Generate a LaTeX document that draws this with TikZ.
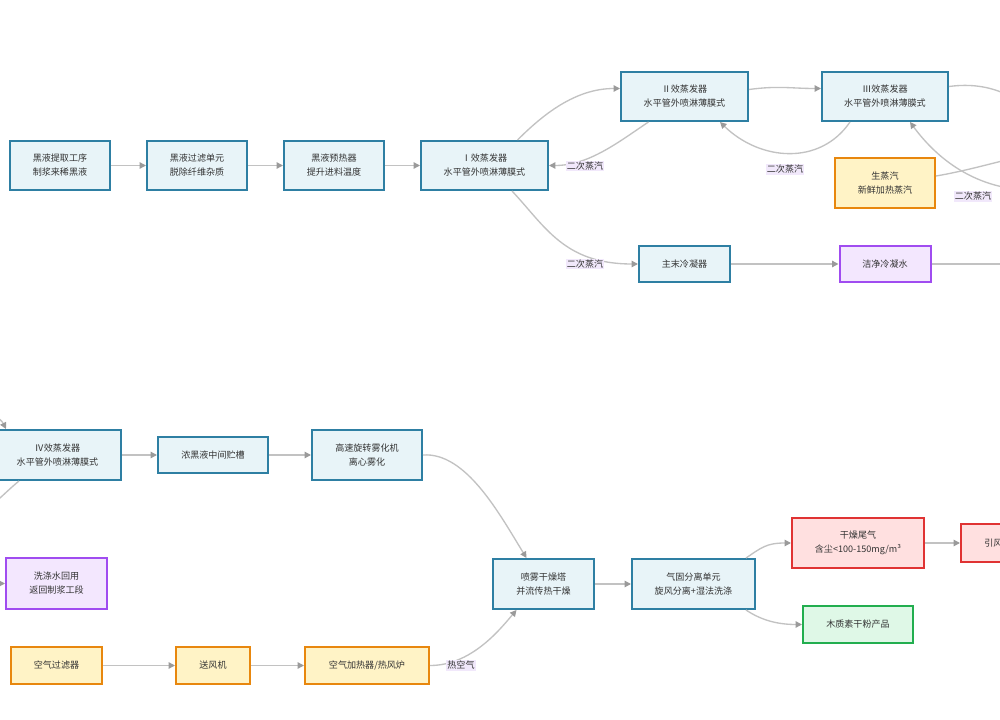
\documentclass[tikz,border=0pt]{standalone}
\usepackage{fontspec}
\setmainfont{Noto Sans CJK SC}
\usetikzlibrary{arrows.meta,calc}
\definecolor{bfill}{HTML}{E8F4F8}
\definecolor{bline}{HTML}{2E7FA3}
\definecolor{ofill}{HTML}{FFF3C6}
\definecolor{oline}{HTML}{E8870E}
\definecolor{pfill}{HTML}{F3E7FE}
\definecolor{pline}{HTML}{A04CF0}
\definecolor{rfill}{HTML}{FFE0E0}
\definecolor{rline}{HTML}{E03333}
\definecolor{gfill}{HTML}{DFF8E7}
\definecolor{gline}{HTML}{22AE4F}
\definecolor{lblbg}{HTML}{F1E8FB}
\definecolor{edgec}{HTML}{C2C2C2}
\definecolor{tipc}{HTML}{9A9A9A}
\definecolor{txt}{HTML}{333333}
\tikzset{
  sz/.style 2 args={minimum width=#1*0.75pt, minimum height=#2*0.75pt},
  box/.style={draw, rectangle, line width=1.5pt, inner sep=0pt, align=center, text=txt,
    font=\fontsize{6.8pt}{10.5pt}\selectfont},
  bluebox/.style={box, fill=bfill, draw=bline},
  orangebox/.style={box, fill=ofill, draw=oline},
  purplebox/.style={box, fill=pfill, draw=pline},
  redbox/.style={box, fill=rfill, draw=rline},
  greenbox/.style={box, fill=gfill, draw=gline},
  edge/.style={draw=edgec, line width=1pt, -{Triangle[length=4.8pt,width=4.8pt,color=tipc]}},
  plainedge/.style={draw=edgec, line width=1pt},
  lbl/.style={fill=lblbg, inner sep=0.8pt, text=txt, font=\fontsize{6.8pt}{8pt}\selectfont}
}
\begin{document}
\begin{tikzpicture}[x=0.75pt,y=-0.75pt]
\useasboundingbox (0,0) rectangle (1000,720);
\clip (0,0) rectangle (1000,720);
\fill[white] (0,0) rectangle (1000,720);
% nodes
\node[bluebox, sz={100}{49}] (A) at (60,165.5) {黑液提取工序\\制浆来稀黑液};
\node[bluebox, sz={100}{49}] (B) at (197,165.5) {黑液过滤单元\\脱除纤维杂质};
\node[bluebox, sz={100}{49}] (C) at (334,165.5) {黑液预热器\\提升进料温度};
\node[bluebox, sz={127}{49}] (D) at (484.5,165.5) {Ⅰ效蒸发器\\水平管外喷淋薄膜式};
\node[bluebox, sz={127}{49}] (E) at (684.5,96.5) {Ⅱ效蒸发器\\水平管外喷淋薄膜式};
\node[bluebox, sz={126}{49}] (F) at (885,96.5) {Ⅲ效蒸发器\\水平管外喷淋薄膜式};
\node[orangebox, sz={100}{50}] (G) at (885,183) {生蒸汽\\新鲜加热蒸汽};
\node[bluebox, sz={91}{36}] (H) at (684.5,264) {主末冷凝器};
\node[purplebox, sz={91}{36}] (I) at (885,264) {洁净冷凝水};
\node[bluebox, sz={127}{50}] (J) at (57.5,455) {Ⅳ效蒸发器\\水平管外喷淋薄膜式};
\node[bluebox, sz={110}{36}] (K) at (213,455) {浓黑液中间贮槽};
\node[bluebox, sz={110}{50}] (L) at (367,455) {高速旋转雾化机\\离心雾化};
\node[bluebox, sz={101}{50}] (M) at (543.5,584) {喷雾干燥塔\\并流传热干燥};
\node[bluebox, sz={123}{50}] (N) at (693.5,584) {气固分离单元\\旋风分离+湿法洗涤};
\node[redbox, sz={132}{50}] (O) at (858,543) {干燥尾气\\含尘<100-150mg/m³};
\node[redbox, sz={74}{38}] (P) at (998,543) {引风机};
\node[greenbox, sz={110}{37}] (Q) at (858,624.5) {木质素干粉产品};
\node[purplebox, sz={101}{51}] (R) at (56.5,583.5) {洗涤水回用\\返回制浆工段};
\node[orangebox, sz={91}{37}] (S) at (56.5,665.5) {空气过滤器};
\node[orangebox, sz={74}{37}] (T) at (213,665.5) {送风机};
\node[orangebox, sz={124}{37}] (U) at (367,665.5) {空气加热器/热风炉};
% free ends
\coordinate (fout) at (1045,120);
\coordinate (vin) at (1045,190);
\coordinate (gout) at (1045,150);
\coordinate (iout) at (1045,264);
\coordinate (jin) at (-40,405);
\coordinate (jout) at (-40,525);
\coordinate (rin) at (-30,583.5);
% edges
\draw[edge] (A.east) -- (B.west);
\draw[edge] (B.east) -- (C.west);
\draw[edge] (C.east) -- (D.west);
\draw[edge] ($(D.north)+(33,0)$) .. controls +(25,-25) and +(-45,0) .. ($(E.west)+(0,-8)$);
\draw[edge] ($(E.south)+(-36,0)$) .. controls +(-30,20) and +(40,0) .. (D.east);
\draw[edge] ($(E.east)+(0,-7)$) .. controls +(30,-4) and +(-30,0) .. ($(F.west)+(0,-8)$);
\draw[edge] ($(F.south)+(-35,0)$) .. controls +(-30,44) and +(40,39) .. ($(E.south)+(35.5,0)$);
\draw[plainedge] ($(F.east)+(0,-10)$) .. controls +(45,-6) and +(-25,-20) .. (fout);
\draw[edge] (vin) .. controls (980,194) and (938,160) .. ($(F.south)+(25,0)$);
\draw[plainedge] ($(G.east)+(0,-7)$) .. controls +(30,-5) and +(-40,10) .. (gout);
\draw[edge] ($(D.south)+(27.5,0)$) .. controls +(33,35) and +(-74,0) .. (H.west);
\draw[edge] (H.east) -- (I.west);
\draw[plainedge] (I.east) -- (iout);
\draw[edge] (jin) .. controls +(30,5) and +(-5,-10) .. ($(J.north west)+(13,0)$);
\draw[plainedge] ($(J.south west)+(26,0)$) .. controls +(-15,12) and +(20,-5) .. (jout);
\draw[edge] (J.east) -- (K.west);
\draw[edge] (K.east) -- (L.west);
\draw[edge] (L.east) .. controls +(43,-3) and +(-27,-44) .. ($(M.north)+(-17,0)$);
\draw[edge] (U.east) .. controls +(41,0) and +(-17,20) .. ($(M.south)+(-27,0)$);
\draw[edge] (S.east) -- (T.west);
\draw[edge] (T.east) -- (U.west);
\draw[edge] (M.east) -- (N.west);
\draw[edge] ($(N.north east)+(-10,0)$) .. controls +(15,-10) and +(-25,0) .. (O.west);
\draw[edge] ($(N.south east)+(-10,0)$) .. controls +(15,10) and +(-25,0) .. (Q.west);
\draw[edge] (O.east) -- (P.west);
\draw[edge] (rin) -- (R.west);
% labels
\node[lbl] (l1) at (585,166) {二次蒸汽};
\node[lbl] (l2) at (785,169.5) {二次蒸汽};
\node[lbl] (l3) at (973,196.5) {二次蒸汽};
\node[lbl] (l4) at (585,264) {二次蒸汽};
\node[lbl] (l5) at (461,665.5) {热空气};
\end{tikzpicture}
\end{document}
